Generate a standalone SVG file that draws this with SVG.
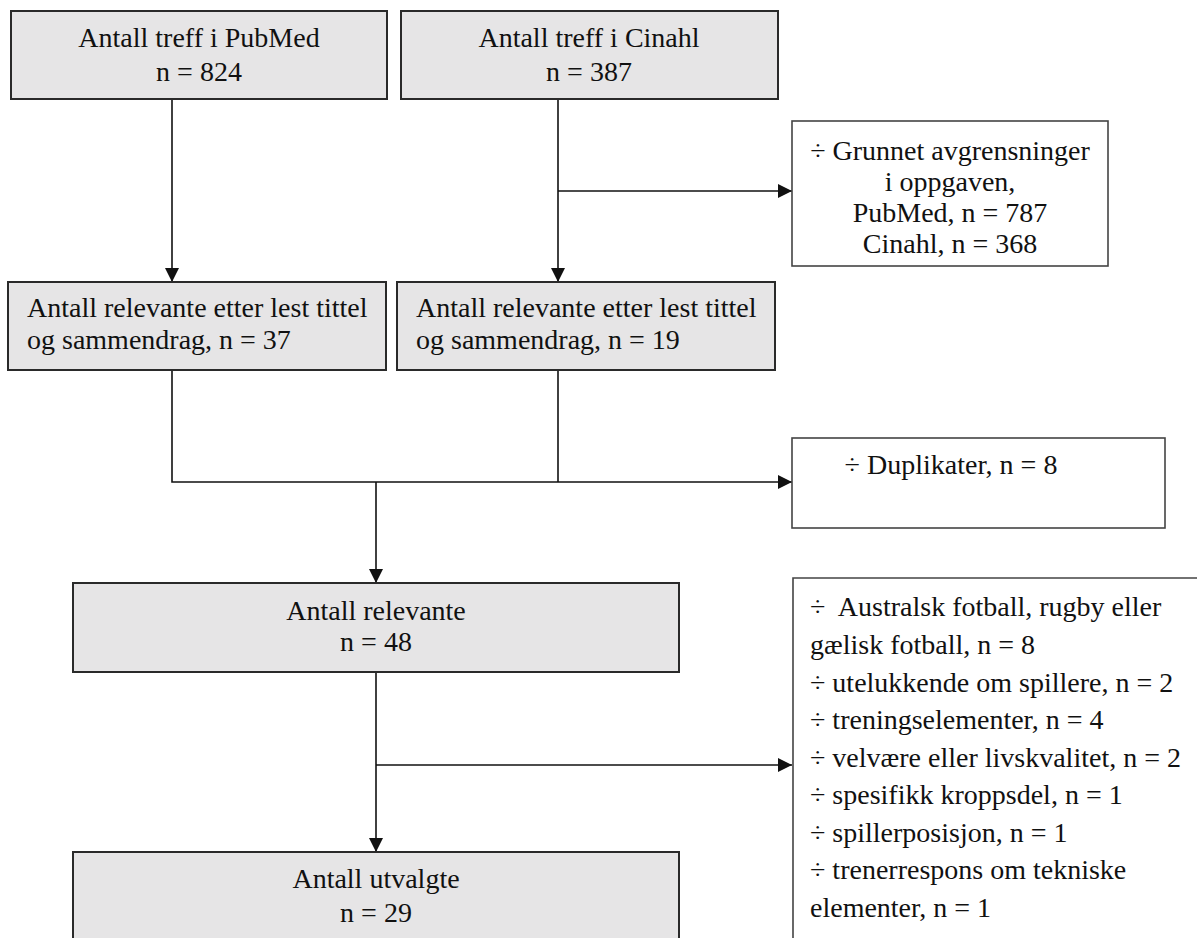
<svg xmlns="http://www.w3.org/2000/svg" width="1197" height="938" viewBox="0 0 1197 938">
<style>
.box{fill:#e6e5e6;stroke:#2a2a2a;stroke-width:2}
.wbox{fill:#ffffff;stroke:#444;stroke-width:1.6}
.t{font-family:"Liberation Serif","Times New Roman",serif;font-size:28px;fill:#111}
.c{text-anchor:middle}
.ln{fill:none;stroke:#111;stroke-width:1.6}
</style>
<defs>
<marker id="ah" markerUnits="userSpaceOnUse" markerWidth="14" markerHeight="14" refX="14" refY="7" orient="auto">
<path d="M0,0 L14,7 L0,14 z" fill="#111"/>
</marker>
</defs>
<rect width="1197" height="938" fill="#ffffff"/>
<g id="connectors">
<path class="ln" d="M172,99 V282" marker-end="url(#ah)"/>
<path class="ln" d="M558,99 V282" marker-end="url(#ah)"/>
<path class="ln" d="M558,191 H792" marker-end="url(#ah)"/>
<path class="ln" d="M172,370 V482 H792" marker-end="url(#ah)"/>
<path class="ln" d="M558,370 V482"/>
<path class="ln" d="M376,482 V583" marker-end="url(#ah)"/>
<path class="ln" d="M376,672 V852" marker-end="url(#ah)"/>
<path class="ln" d="M376,765 H792" marker-end="url(#ah)"/>
</g>
<g id="pubmed">
<rect class="box" x="11" y="11" width="376" height="88"/>
<text class="t c" x="199" y="47">Antall treff i PubMed</text>
<text class="t c" x="199" y="81">n = 824</text>
</g>
<g id="cinahl">
<rect class="box" x="401" y="11" width="377" height="88"/>
<text class="t c" x="589" y="47">Antall treff i Cinahl</text>
<text class="t c" x="589" y="81">n = 387</text>
</g>
<g id="avgrensninger">
<rect class="wbox" x="792" y="121" width="316" height="145"/>
<text class="t c" x="950" y="160">÷ Grunnet avgrensninger</text>
<text class="t c" x="950" y="191">i oppgaven,</text>
<text class="t c" x="950" y="222">PubMed, n = 787</text>
<text class="t c" x="950" y="253">Cinahl, n = 368</text>
</g>
<g id="pubmed-relevante">
<rect class="box" x="8" y="282" width="378" height="88"/>
<text class="t" x="27" y="317">Antall relevante etter lest tittel</text>
<text class="t" x="27" y="349">og sammendrag, n = 37</text>
</g>
<g id="cinahl-relevante">
<rect class="box" x="397" y="282" width="378" height="88"/>
<text class="t" x="416" y="317">Antall relevante etter lest tittel</text>
<text class="t" x="416" y="349">og sammendrag, n = 19</text>
</g>
<g id="duplikater">
<rect class="wbox" x="792" y="438" width="373" height="90"/>
<text class="t c" x="951" y="474">÷ Duplikater, n = 8</text>
</g>
<g id="relevante">
<rect class="box" x="73" y="583" width="606" height="89"/>
<text class="t c" x="376" y="620">Antall relevante</text>
<text class="t c" x="376" y="651">n = 48</text>
</g>
<g id="eksklusjon">
<path class="wbox" d="M1197,578 H793 V938" fill="none"/>
<text class="t" x="810" y="616" xml:space="preserve">÷  Australsk fotball, rugby eller</text>
<text class="t" x="810" y="654">gælisk fotball, n = 8</text>
<text class="t" x="810" y="692">÷ utelukkende om spillere, n = 2</text>
<text class="t" x="810" y="729">÷ treningselementer, n = 4</text>
<text class="t" x="810" y="767">÷ velvære eller livskvalitet, n = 2</text>
<text class="t" x="810" y="804">÷ spesifikk kroppsdel, n = 1</text>
<text class="t" x="810" y="842">÷ spillerposisjon, n = 1</text>
<text class="t" x="810" y="879">÷ trenerrespons om tekniske</text>
<text class="t" x="810" y="917">elementer, n = 1</text>
</g>
<g id="utvalgte">
<rect class="box" x="73" y="852" width="606" height="100"/>
<text class="t c" x="376" y="888">Antall utvalgte</text>
<text class="t c" x="376" y="922">n = 29</text>
</g>
</svg>
